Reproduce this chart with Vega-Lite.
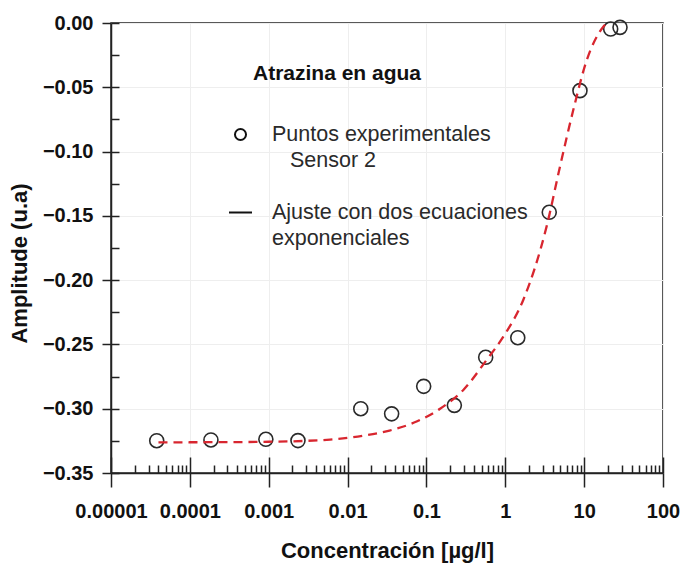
{
  "$schema": "https://vega.github.io/schema/vega-lite/v6.json",
  "width": 552,
  "height": 450,
  "autosize": {"type": "none"},
  "padding": {"left": 111, "top": 23, "right": 20, "bottom": 91},
  "background": "white",
  "title": {
    "text": "Atrazina en agua",
    "anchor": "start", "frame": "group", "offset": 0,
    "dx": 142, "dy": 71, "baseline": "top",
    "font": "Liberation Sans", "fontSize": 21, "fontWeight": "bold", "color": "#111"
  },
  "config": {
    "font": "Liberation Sans",
    "view": {"stroke": "#222", "strokeWidth": 1.5},
    "axis": {
      "labelFont": "Liberation Sans", "labelFontSize": 20, "labelFontWeight": "bold", "labelColor": "#111",
      "titleFont": "Liberation Sans", "titleFontSize": 22, "titleFontWeight": "bold", "titleColor": "#111",
      "domainColor": "#222", "domainWidth": 1.5, "tickColor": "#222", "tickWidth": 1.5,
      "gridColor": "#eeeeee", "gridWidth": 1
    }
  },
  "datasets": {
    "puntos": [
      {"conc": 0.000038, "amp": -0.3249, "serie": "Puntos experimentales"},
      {"conc": 0.000185, "amp": -0.3243, "serie": "Puntos experimentales"},
      {"conc": 0.00092, "amp": -0.3238, "serie": "Puntos experimentales"},
      {"conc": 0.00235, "amp": -0.3248, "serie": "Puntos experimentales"},
      {"conc": 0.0147, "amp": -0.3000, "serie": "Puntos experimentales"},
      {"conc": 0.0362, "amp": -0.3040, "serie": "Puntos experimentales"},
      {"conc": 0.0923, "amp": -0.2826, "serie": "Puntos experimentales"},
      {"conc": 0.226, "amp": -0.2974, "serie": "Puntos experimentales"},
      {"conc": 0.564, "amp": -0.2600, "serie": "Puntos experimentales"},
      {"conc": 1.44, "amp": -0.2448, "serie": "Puntos experimentales"},
      {"conc": 3.61, "amp": -0.1472, "serie": "Puntos experimentales"},
      {"conc": 8.85, "amp": -0.0526, "serie": "Puntos experimentales"},
      {"conc": 21.7, "amp": -0.0047, "serie": "Puntos experimentales"},
      {"conc": 28.5, "amp": -0.0034, "serie": "Puntos experimentales"}
    ],
    "ajuste": [
      {"conc": 0.00004, "amp": -0.3262},
      {"conc": 0.0001, "amp": -0.3261},
      {"conc": 0.0003, "amp": -0.3260},
      {"conc": 0.001, "amp": -0.3257},
      {"conc": 0.003, "amp": -0.3250},
      {"conc": 0.006, "amp": -0.3240},
      {"conc": 0.0157, "amp": -0.3210},
      {"conc": 0.034, "amp": -0.3170},
      {"conc": 0.075, "amp": -0.3100},
      {"conc": 0.149, "amp": -0.3000},
      {"conc": 0.294, "amp": -0.2854},
      {"conc": 0.58, "amp": -0.2620},
      {"conc": 0.944, "amp": -0.2440},
      {"conc": 1.69, "amp": -0.2154},
      {"conc": 3.35, "amp": -0.1580},
      {"conc": 4.94, "amp": -0.1117},
      {"conc": 7.28, "amp": -0.0677},
      {"conc": 10.8, "amp": -0.0288},
      {"conc": 17.5, "amp": -0.0029},
      {"conc": 19.3, "amp": 0.0}
    ]
  },
  "layer": [
    {
      "data": {"name": "puntos"},
      "mark": {"type": "point", "filled": false, "size": 850, "strokeWidth": 1.6, "color": "#2a2a2a", "opacity": 1},
      "encoding": {
        "x": {
          "field": "conc", "type": "quantitative",
          "scale": {"type": "log", "domain": [0.00001, 100], "nice": false},
          "axis": {
            "orient": "bottom",
            "values": [0.00001, 0.00002, 0.00003, 0.00004, 0.00005, 0.00006, 0.00007, 0.00008, 0.00009,
                       0.0001, 0.0002, 0.0003, 0.0004, 0.0005, 0.0006, 0.0007, 0.0008, 0.0009,
                       0.001, 0.002, 0.003, 0.004, 0.005, 0.006, 0.007, 0.008, 0.009,
                       0.01, 0.02, 0.03, 0.04, 0.05, 0.06, 0.07, 0.08, 0.09,
                       0.1, 0.2, 0.3, 0.4, 0.5, 0.6, 0.7, 0.8, 0.9,
                       1, 2, 3, 4, 5, 6, 7, 8, 9,
                       10, 20, 30, 40, 50, 60, 70, 80, 90, 100],
            "tickSize": {"condition": {"test": "indexof([0.00001, 0.0001, 0.001, 0.01, 0.1, 1, 10, 100], datum.value) >= 0", "value": -16}, "value": -8},
            "labels": false, "title": null, "domain": false, "grid": false
          }
        },
        "y": {
          "field": "amp", "type": "quantitative",
          "scale": {"domain": [-0.35, 0], "nice": false, "zero": false},
          "axis": {
            "orient": "left",
            "values": [-0.35, -0.325, -0.3, -0.275, -0.25, -0.225, -0.2, -0.175, -0.15, -0.125, -0.1, -0.075, -0.05, -0.025, 0],
            "tickSize": -8, "labels": false, "title": null, "domain": false, "grid": false
          }
        },
        "shape": {
          "field": "serie", "type": "nominal",
          "scale": {
            "domain": ["Puntos experimentales", "Sensor 2", "sep", "Ajuste con dos ecuaciones", "exponenciales"],
            "range": ["M0.48,0A0.48,0.48,0,1,1,-0.48,0A0.48,0.48,0,1,1,0.48,0Z", "M0,0", "M0,0", "stroke", "M0,0"]
          },
          "legend": {
            "title": null,
            "orient": "none", "legendX": 117, "legendY": 99,
            "direction": "vertical",
            "padding": 0,
            "labelFont": "Liberation Sans", "labelFontSize": 21.5, "labelColor": "#2a2a2a", "labelLimit": 500,
            "labelOffset": 19, "labelBaseline": "middle",
            "symbolSize": 529, "symbolStrokeWidth": 2, "symbolStrokeColor": "#111", "symbolFillColor": "transparent",
            "rowPadding": 3,
            "labelExpr": "datum.value === 'sep' ? '' : datum.value === 'Sensor 2' ? '\u200b\u00a0\u00a0\u00a0Sensor 2' : datum.label"
          }
        }
      }
    },
    {
      "data": {"name": "ajuste"},
      "mark": {"type": "line", "color": "#d8262f", "strokeWidth": 2.3, "strokeDash": [9, 6], "interpolate": "monotone"},
      "encoding": {
        "x": {
          "field": "conc", "type": "quantitative",
          "scale": {"type": "log", "domain": [0.00001, 100], "nice": false},
          "axis": {
            "orient": "bottom",
            "values": [0.00001, 0.0001, 0.001, 0.01, 0.1, 1, 10, 100],
            "labelExpr": "toString(datum.value)",
            "tickSize": 14, "labelPadding": 14, "labelFlush": false, "labelOverlap": false,
            "title": "Concentración [µg/l]", "titlePadding": 19, "titleFontSize": 22, "grid": true
          }
        },
        "y": {
          "field": "amp", "type": "quantitative",
          "scale": {"domain": [-0.35, 0], "nice": false, "zero": false},
          "axis": {
            "orient": "left",
            "values": [-0.35, -0.3, -0.25, -0.2, -0.15, -0.1, -0.05, 0],
            "format": ".2f",
            "tickSize": 9, "labelPadding": 9, "labelFlush": false, "labelOverlap": false,
            "title": "Amplitude (u.a)", "titlePadding": 11, "titleY": 240, "grid": true
          }
        }
      }
    }
  ],
  "resolve": {"axis": {"x": "independent", "y": "independent"}}
}
